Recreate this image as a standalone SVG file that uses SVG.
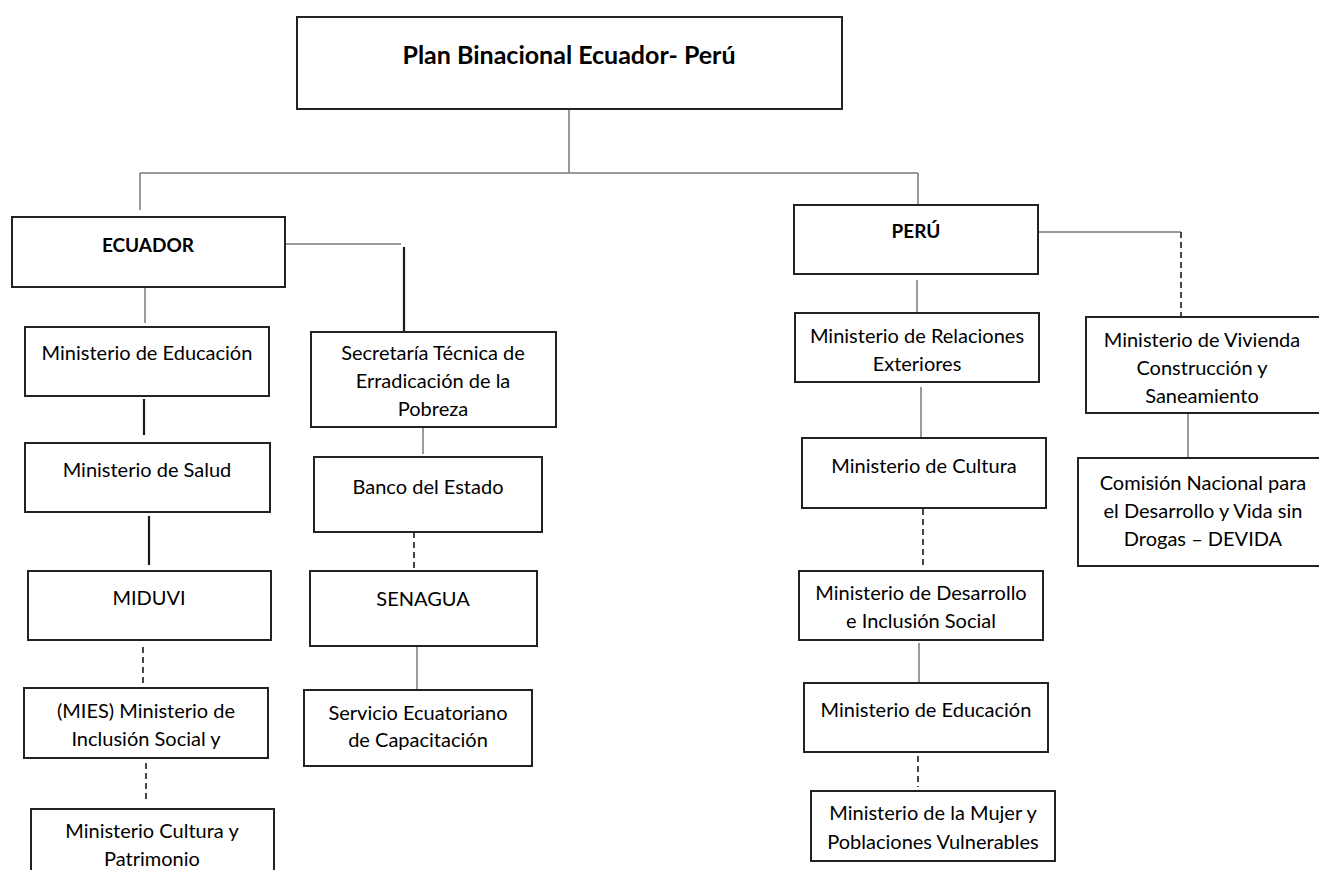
<svg xmlns="http://www.w3.org/2000/svg" width="1319" height="870" viewBox="0 0 1319 870">
<style>
.box{fill:#fff;stroke:#222;stroke-width:2}
.t{font-family:Lato,"Liberation Sans",sans-serif;font-size:20px;fill:#000;text-anchor:middle}
.b{font-weight:bold;font-size:19px}
.g{stroke:#7a7a7a;stroke-width:1.5;fill:none}
.k{stroke:#1a1a1a;stroke-width:2.2;fill:none}
.d{stroke:#333;stroke-width:1.8;stroke-dasharray:6 4;fill:none}
</style>
<rect width="1319" height="870" fill="#fff"/>
<g id="connectors">
<path class="g" d="M569 109V173M140 173H918M140 173V210M918 173V205"/>
<path class="g" d="M285 244H401"/>
<path class="k" d="M404 247V332"/>
<path class="g" d="M145 287V323"/>
<path class="k" d="M144 399V435"/>
<path class="k" d="M149 516V565"/>
<path class="d" d="M143 647V684"/>
<path class="d" d="M146 763V801"/>
<path class="g" d="M423 427V454"/>
<path class="d" d="M414 532V573"/>
<path class="g" d="M417 646V689"/>
<path class="g" d="M917 280V313"/>
<path class="g" d="M1038 232H1181"/>
<path class="d" d="M1181 232V317"/>
<path class="g" d="M921 387V438"/>
<path class="d" d="M923 509V569"/>
<path class="g" d="M919 643V682"/>
<path class="d" d="M918 756V787"/>
<path class="g" d="M1188 413V458"/>
</g>
<g id="n-plan"><rect class="box" x="297" y="17" width="545" height="92"/><text class="t b" x="569" y="64" style="font-size:25px">Plan Binacional Ecuador- Perú</text></g>
<g id="n-ecuador"><rect class="box" x="12" y="217" width="273" height="70"/><text class="t b" x="148" y="252">ECUADOR</text></g>
<g id="n-peru"><rect class="box" x="794" y="205" width="244" height="69"/><text class="t b" x="916" y="238">PERÚ</text></g>
<g id="n-ec-educacion"><rect class="box" x="25" y="327" width="244" height="69"/><text class="t" x="147" y="360">Ministerio de Educación</text></g>
<g id="n-ec-salud"><rect class="box" x="25" y="443" width="245" height="69"/><text class="t" x="147" y="477">Ministerio de Salud</text></g>
<g id="n-miduvi"><rect class="box" x="28" y="571" width="243" height="69"/><text class="t" x="149" y="605">MIDUVI</text></g>
<g id="n-mies"><rect class="box" x="24" y="688" width="244" height="70"/><text class="t" x="146" y="718">(MIES) Ministerio de</text><text class="t" x="146" y="746">Inclusión Social y</text></g>
<g id="n-ec-cultura"><rect class="box" x="31" y="809" width="243" height="80"/><text class="t" x="152" y="838">Ministerio Cultura y</text><text class="t" x="152" y="866">Patrimonio</text></g>
<g id="n-secretaria"><rect class="box" x="311" y="332" width="245" height="95"/><text class="t" x="433" y="360">Secretaría Técnica de</text><text class="t" x="433" y="388">Erradicación de la</text><text class="t" x="433" y="416">Pobreza</text></g>
<g id="n-banco"><rect class="box" x="314" y="457" width="228" height="75"/><text class="t" x="428" y="494">Banco del Estado</text></g>
<g id="n-senagua"><rect class="box" x="310" y="571" width="227" height="75"/><text class="t" x="423" y="606">SENAGUA</text></g>
<g id="n-servicio"><rect class="box" x="304" y="690" width="228" height="76"/><text class="t" x="418" y="720">Servicio Ecuatoriano</text><text class="t" x="418" y="747">de Capacitación</text></g>
<g id="n-relaciones"><rect class="box" x="795" y="313" width="244" height="69"/><text class="t" x="917" y="343">Ministerio de Relaciones</text><text class="t" x="917" y="371">Exteriores</text></g>
<g id="n-pe-cultura"><rect class="box" x="802" y="438" width="244" height="70"/><text class="t" x="924" y="473">Ministerio de Cultura</text></g>
<g id="n-desarrollo"><rect class="box" x="799" y="571" width="244" height="69"/><text class="t" x="921" y="600">Ministerio de Desarrollo</text><text class="t" x="921" y="628">e Inclusión Social</text></g>
<g id="n-pe-educacion"><rect class="box" x="804" y="683" width="244" height="69"/><text class="t" x="926" y="717">Ministerio de Educación</text></g>
<g id="n-mujer"><rect class="box" x="811" y="791" width="244" height="70"/><text class="t" x="933" y="820">Ministerio de la Mujer y</text><text class="t" x="933" y="849">Poblaciones Vulnerables</text></g>
<g id="n-vivienda"><rect class="box" x="1086" y="317" width="236" height="96"/><text class="t" x="1202" y="347">Ministerio de Vivienda</text><text class="t" x="1202" y="375">Construcción y</text><text class="t" x="1202" y="403">Saneamiento</text></g>
<g id="n-devida"><rect class="box" x="1078" y="458" width="250" height="108"/><text class="t" x="1203" y="490">Comisión Nacional para</text><text class="t" x="1203" y="518">el Desarrollo y Vida sin</text><text class="t" x="1203" y="546">Drogas – DEVIDA</text></g>
</svg>
